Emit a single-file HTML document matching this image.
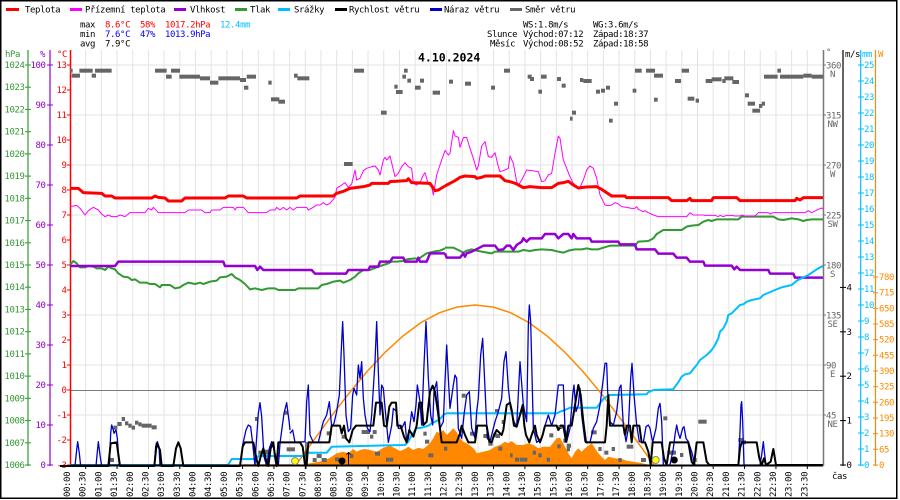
<!DOCTYPE html>
<html><head><meta charset="utf-8"><style>
html,body{margin:0;padding:0;background:#fff;}
svg{display:block;}
text{font-family:"DejaVu Sans Mono","Liberation Mono",monospace;font-size:9px;letter-spacing:-0.4px;}
polyline{fill:none;vector-effect:non-scaling-stroke;stroke-linejoin:round;}
</style></head><body>
<svg width="900" height="500" xmlns="http://www.w3.org/2000/svg">
<rect x="0" y="0" width="900" height="500" fill="#fff"/>
<rect x="0.75" y="0.75" width="896" height="497.5" fill="none" stroke="#000" stroke-width="1.5"/>

<!-- grid -->
<g stroke="#e3e3e3" stroke-width="1">
<line x1="85.69" y1="50" x2="85.69" y2="465"/><line x1="101.38" y1="50" x2="101.38" y2="465"/><line x1="117.06" y1="50" x2="117.06" y2="465"/><line x1="132.75" y1="50" x2="132.75" y2="465"/><line x1="148.44" y1="50" x2="148.44" y2="465"/><line x1="164.13" y1="50" x2="164.13" y2="465"/><line x1="179.81" y1="50" x2="179.81" y2="465"/><line x1="195.5" y1="50" x2="195.5" y2="465"/><line x1="211.19" y1="50" x2="211.19" y2="465"/><line x1="226.88" y1="50" x2="226.88" y2="465"/><line x1="242.56" y1="50" x2="242.56" y2="465"/><line x1="258.25" y1="50" x2="258.25" y2="465"/><line x1="273.94" y1="50" x2="273.94" y2="465"/><line x1="289.63" y1="50" x2="289.63" y2="465"/><line x1="305.31" y1="50" x2="305.31" y2="465"/><line x1="321" y1="50" x2="321" y2="465"/><line x1="336.69" y1="50" x2="336.69" y2="465"/><line x1="352.38" y1="50" x2="352.38" y2="465"/><line x1="368.06" y1="50" x2="368.06" y2="465"/><line x1="383.75" y1="50" x2="383.75" y2="465"/><line x1="399.44" y1="50" x2="399.44" y2="465"/><line x1="415.13" y1="50" x2="415.13" y2="465"/><line x1="430.81" y1="50" x2="430.81" y2="465"/><line x1="446.5" y1="50" x2="446.5" y2="465"/><line x1="462.19" y1="50" x2="462.19" y2="465"/><line x1="477.88" y1="50" x2="477.88" y2="465"/><line x1="493.56" y1="50" x2="493.56" y2="465"/><line x1="509.25" y1="50" x2="509.25" y2="465"/><line x1="524.94" y1="50" x2="524.94" y2="465"/><line x1="540.63" y1="50" x2="540.63" y2="465"/><line x1="556.31" y1="50" x2="556.31" y2="465"/><line x1="572" y1="50" x2="572" y2="465"/><line x1="587.69" y1="50" x2="587.69" y2="465"/><line x1="603.38" y1="50" x2="603.38" y2="465"/><line x1="619.06" y1="50" x2="619.06" y2="465"/><line x1="634.75" y1="50" x2="634.75" y2="465"/><line x1="650.44" y1="50" x2="650.44" y2="465"/><line x1="666.13" y1="50" x2="666.13" y2="465"/><line x1="681.81" y1="50" x2="681.81" y2="465"/><line x1="697.5" y1="50" x2="697.5" y2="465"/><line x1="713.19" y1="50" x2="713.19" y2="465"/><line x1="728.88" y1="50" x2="728.88" y2="465"/><line x1="744.56" y1="50" x2="744.56" y2="465"/><line x1="760.25" y1="50" x2="760.25" y2="465"/><line x1="775.94" y1="50" x2="775.94" y2="465"/><line x1="791.63" y1="50" x2="791.63" y2="465"/><line x1="807.31" y1="50" x2="807.31" y2="465"/>
<line x1="70" y1="65" x2="823" y2="65"/><line x1="70" y1="115" x2="823" y2="115"/><line x1="70" y1="165" x2="823" y2="165"/><line x1="70" y1="215" x2="823" y2="215"/><line x1="70" y1="265" x2="823" y2="265"/><line x1="70" y1="315" x2="823" y2="315"/><line x1="70" y1="365" x2="823" y2="365"/><line x1="70" y1="415" x2="823" y2="415"/>
</g>
<line x1="70" y1="390.5" x2="823" y2="390.5" stroke="#7a7a7a" stroke-width="1"/>

<!-- legend -->
<g stroke-width="3">
<line x1="6" y1="9.5" x2="19" y2="9.5" stroke="#ff0000"/>
<line x1="70" y1="9.5" x2="82" y2="9.5" stroke="#ff00ff"/>
<line x1="174" y1="9.5" x2="186" y2="9.5" stroke="#9400d3"/>
<line x1="235" y1="9.5" x2="247" y2="9.5" stroke="#339933"/>
<line x1="278" y1="9.5" x2="290" y2="9.5" stroke="#00bfff"/>
<line x1="335" y1="9.5" x2="347" y2="9.5" stroke="#000"/>
<line x1="430" y1="9.5" x2="442" y2="9.5" stroke="#0000cc"/>
<line x1="510" y1="9.5" x2="522" y2="9.5" stroke="#666"/>
</g>
<g fill="#000">
<text x="25" y="12.5">Teplota</text>
<text x="85" y="12.5">Přízemní teplota</text>
<text x="190" y="12.5">Vlhkost</text>
<text x="250" y="12.5">Tlak</text>
<text x="294" y="12.5">Srážky</text>
<text x="349" y="12.5">Rychlost větru</text>
<text x="444" y="12.5">Náraz větru</text>
<text x="525" y="12.5">Směr větru</text>
</g>

<!-- stats -->
<text x="80" y="27.3">max</text>
<text x="105" y="27.3" fill="#ff0000">8.6°C</text>
<text x="140" y="27.3" fill="#ff0000">58%</text>
<text x="165" y="27.3" fill="#ff0000">1017.2hPa</text>
<text x="220" y="27.3" fill="#00bfff">12.4mm</text>
<text x="80" y="37">min</text>
<text x="105" y="37" fill="#0000ff">7.6°C</text>
<text x="140" y="37" fill="#0000ff">47%</text>
<text x="165" y="37" fill="#0000ff">1013.9hPa</text>
<text x="80" y="46.7">avg</text>
<text x="105" y="46.7">7.9°C</text>

<text x="523" y="27.3">WS:1.8m/s</text>
<text x="593" y="27.3">WG:3.6m/s</text>
<text x="487" y="37">Slunce</text>
<text x="523" y="37">Východ:07:12</text>
<text x="593" y="37">Západ:18:37</text>
<text x="490" y="46.7">Měsíc</text>
<text x="523" y="46.7">Východ:08:52</text>
<text x="593" y="46.7">Západ:18:58</text>

<text x="418" y="61.7" style="font-size:11.5px;font-weight:bold;letter-spacing:0">4.10.2024</text>

<!-- axis headers -->
<text x="5" y="57" fill="#339933">hPa</text>
<text x="40" y="57" fill="#9400d3">%</text>
<text x="57" y="57" fill="#ff0000">°C</text>
<text x="826" y="55" fill="#666">°</text>
<text x="845" y="57" fill="#000">m/s</text>
<text x="862" y="57" fill="#00bfff">mm</text>
<text x="878" y="57" fill="#ff8800">W</text>

<!-- left axes -->
<line x1="28" y1="50" x2="28" y2="466" stroke="#339933" stroke-width="1.2"/>
<line x1="50" y1="50" x2="50" y2="466" stroke="#9400d3" stroke-width="1.2"/>
<line x1="70.5" y1="50" x2="70.5" y2="466" stroke="#ff0000" stroke-width="1.5"/>
<g stroke="#339933"><line x1="25" x2="31" y1="65" y2="65"/><line x1="25" x2="31" y1="87.2" y2="87.2"/><line x1="25" x2="31" y1="109.4" y2="109.4"/><line x1="25" x2="31" y1="131.7" y2="131.7"/><line x1="25" x2="31" y1="153.9" y2="153.9"/><line x1="25" x2="31" y1="176.1" y2="176.1"/><line x1="25" x2="31" y1="198.3" y2="198.3"/><line x1="25" x2="31" y1="220.6" y2="220.6"/><line x1="25" x2="31" y1="242.8" y2="242.8"/><line x1="25" x2="31" y1="265" y2="265"/><line x1="25" x2="31" y1="287.2" y2="287.2"/><line x1="25" x2="31" y1="309.4" y2="309.4"/><line x1="25" x2="31" y1="331.7" y2="331.7"/><line x1="25" x2="31" y1="353.9" y2="353.9"/><line x1="25" x2="31" y1="376.1" y2="376.1"/><line x1="25" x2="31" y1="398.3" y2="398.3"/><line x1="25" x2="31" y1="420.6" y2="420.6"/><line x1="25" x2="31" y1="442.8" y2="442.8"/><line x1="25" x2="31" y1="465" y2="465"/></g>
<g fill="#339933" text-anchor="end"><text x="24.5" y="68">1024</text><text x="24.5" y="90.2">1023</text><text x="24.5" y="112.4">1022</text><text x="24.5" y="134.7">1021</text><text x="24.5" y="156.9">1020</text><text x="24.5" y="179.1">1019</text><text x="24.5" y="201.3">1018</text><text x="24.5" y="223.6">1017</text><text x="24.5" y="245.8">1016</text><text x="24.5" y="268">1015</text><text x="24.5" y="290.2">1014</text><text x="24.5" y="312.4">1013</text><text x="24.5" y="334.7">1012</text><text x="24.5" y="356.9">1011</text><text x="24.5" y="379.1">1010</text><text x="24.5" y="401.3">1009</text><text x="24.5" y="423.6">1008</text><text x="24.5" y="445.8">1007</text><text x="24.5" y="468">1006</text></g>
<g stroke="#9400d3"><line x1="47" x2="53" y1="65" y2="65"/><line x1="47" x2="53" y1="105" y2="105"/><line x1="47" x2="53" y1="145" y2="145"/><line x1="47" x2="53" y1="185" y2="185"/><line x1="47" x2="53" y1="225" y2="225"/><line x1="47" x2="53" y1="265" y2="265"/><line x1="47" x2="53" y1="305" y2="305"/><line x1="47" x2="53" y1="345" y2="345"/><line x1="47" x2="53" y1="385" y2="385"/><line x1="47" x2="53" y1="425" y2="425"/><line x1="47" x2="53" y1="465" y2="465"/></g>
<g fill="#9400d3" text-anchor="end"><text x="45.5" y="68">100</text><text x="45.5" y="108">90</text><text x="45.5" y="148">80</text><text x="45.5" y="188">70</text><text x="45.5" y="228">60</text><text x="45.5" y="268">50</text><text x="45.5" y="308">40</text><text x="45.5" y="348">30</text><text x="45.5" y="388">20</text><text x="45.5" y="428">10</text><text x="45.5" y="468">0</text></g>
<g stroke="#ff0000"><line x1="67" x2="71" y1="65" y2="65"/><line x1="67" x2="71" y1="90" y2="90"/><line x1="67" x2="71" y1="115" y2="115"/><line x1="67" x2="71" y1="140" y2="140"/><line x1="67" x2="71" y1="165" y2="165"/><line x1="67" x2="71" y1="190" y2="190"/><line x1="67" x2="71" y1="215" y2="215"/><line x1="67" x2="71" y1="240" y2="240"/><line x1="67" x2="71" y1="265" y2="265"/><line x1="67" x2="71" y1="290" y2="290"/><line x1="67" x2="71" y1="315" y2="315"/><line x1="67" x2="71" y1="340" y2="340"/><line x1="67" x2="71" y1="365" y2="365"/><line x1="67" x2="71" y1="390" y2="390"/><line x1="67" x2="71" y1="415" y2="415"/><line x1="67" x2="71" y1="440" y2="440"/><line x1="67" x2="71" y1="465" y2="465"/></g>
<g fill="#ff0000" text-anchor="end"><text x="66.5" y="68">13</text><text x="66.5" y="93">12</text><text x="66.5" y="118">11</text><text x="66.5" y="143">10</text><text x="66.5" y="168">9</text><text x="66.5" y="193">8</text><text x="66.5" y="218">7</text><text x="66.5" y="243">6</text><text x="66.5" y="268">5</text><text x="66.5" y="293">4</text><text x="66.5" y="318">3</text><text x="66.5" y="343">2</text><text x="66.5" y="368">1</text><text x="66.5" y="393">0</text><text x="66.5" y="418">-1</text><text x="66.5" y="443">-2</text><text x="66.5" y="468">-3</text></g>

<!-- orange measured radiation fill -->
<polygon fill="#ff8800" points="300,465 310,463.3 323.3,461 330,457.7 336.7,453.3 343.3,451.7 348.3,453.3 353.3,449 356.7,451.7 360,450 365,449 370,450 376.7,451.7 383.3,447.7 390,445.7 395,448.3 400,451 405,449 408.3,446.7 413.3,450 418.3,447.7 423.3,449 430,443.3 433.3,438.3 436.7,431.7 440,433.3 443.3,430 446.7,435 450,431.7 453.3,428.3 456.7,432.3 460,438.3 463.3,441.7 466.7,443.3 471.7,446.7 475,450 476.7,453.3 483.3,451.7 490,450 495,446.7 500,445 505,441.7 508.3,443.3 511.7,441 516.7,445 523.3,445 528.3,443.3 533.3,445 538.3,448.3 543.3,446.7 550,446.7 556.7,438.3 560,437.7 565,446.7 568.3,453.3 571.7,458.3 575,451.7 578.3,448.3 581.7,451.7 585,448.3 591.7,443.3 595,448.3 598.3,453.3 601.7,456.7 605,460 608.3,456.7 615,458.3 621.7,459 626.7,460.7 633.3,461.7 640,462.7 646.7,464.3 650,465"/>
<line x1="243" y1="465" x2="300" y2="465" stroke="#ff8800" stroke-width="1.5"/>

<!-- gray direction squares -->
<g fill="#666">
<g transform="translate(70 60) scale(0.333333)">
<rect x="0" y="26" width="8" height="12"/><rect x="5" y="41" width="25" height="12"/><rect x="28" y="26" width="40" height="12"/><rect x="65" y="41" width="13" height="12"/><rect x="75" y="26" width="50" height="12"/><rect x="255" y="26" width="35" height="12"/><rect x="288" y="44" width="17" height="12"/><rect x="303" y="26" width="27" height="12"/><rect x="328" y="44" width="62" height="12"/><rect x="390" y="49" width="30" height="12"/><rect x="420" y="62" width="25" height="12"/><rect x="445" y="49" width="65" height="12"/><rect x="510" y="54" width="18" height="12"/><rect x="522" y="77" width="13" height="12"/><rect x="530" y="44" width="28" height="12"/><rect x="595" y="62" width="10" height="12"/><rect x="603" y="112" width="25" height="12"/><rect x="625" y="119" width="20" height="12"/><rect x="672" y="41" width="11" height="12"/><rect x="682" y="49" width="36" height="12"/><rect x="822" y="306" width="26" height="12"/><rect x="852" y="26" width="30" height="12"/><rect x="933" y="152" width="17" height="12"/><rect x="973" y="74" width="10" height="12"/><rect x="978" y="90" width="20" height="12"/><rect x="997" y="44" width="11" height="12"/><rect x="1002" y="26" width="11" height="12"/><rect x="1012" y="56" width="11" height="12"/><rect x="1035" y="77" width="17" height="12"/><rect x="1050" y="56" width="12" height="12"/><rect x="1088" y="92" width="22" height="12"/>
</g>
<g transform="translate(445 60) scale(0.333333)">
<rect x="12" y="59" width="12" height="12"/><rect x="60" y="65" width="18" height="12"/><rect x="138" y="77" width="12" height="12"/><rect x="177" y="26" width="18" height="12"/><rect x="248" y="44" width="12" height="12"/><rect x="255" y="51" width="12" height="12"/><rect x="288" y="44" width="17" height="12"/><rect x="280" y="89" width="11" height="12"/><rect x="336" y="51" width="12" height="12"/><rect x="350" y="71" width="12" height="12"/><rect x="375" y="170" width="8" height="12"/><rect x="381" y="152" width="12" height="12"/><rect x="405" y="54" width="10" height="12"/><rect x="415" y="57" width="25" height="12"/><rect x="453" y="89" width="12" height="12"/><rect x="468" y="86" width="12" height="12"/><rect x="483" y="77" width="12" height="12"/><rect x="492" y="176" width="11" height="12"/><rect x="507" y="125" width="12" height="12"/><rect x="563" y="86" width="11" height="12"/><rect x="570" y="26" width="20" height="12"/><rect x="603" y="26" width="27" height="12"/><rect x="627" y="41" width="27" height="12"/><rect x="627" y="113" width="11" height="12"/><rect x="690" y="57" width="18" height="12"/><rect x="710" y="26" width="22" height="12"/><rect x="728" y="110" width="20" height="12"/><rect x="752" y="116" width="10" height="12"/><rect x="782" y="57" width="20" height="12"/><rect x="800" y="52" width="30" height="12"/><rect x="832" y="57" width="10" height="12"/><rect x="838" y="49" width="27" height="12"/><rect x="862" y="60" width="20" height="12"/><rect x="900" y="100" width="12" height="12"/><rect x="908" y="125" width="22" height="12"/><rect x="922" y="146" width="23" height="12"/><rect x="942" y="132" width="10" height="12"/><rect x="950" y="125" width="10" height="12"/><rect x="957" y="44" width="41" height="12"/><rect x="997" y="26" width="11" height="12"/><rect x="1005" y="44" width="70" height="12"/><rect x="1075" y="41" width="25" height="12"/><rect x="1100" y="44" width="36" height="12"/>
</g>
<g transform="translate(60 380) scale(0.333333)">
<rect x="150" y="234" width="12" height="12"/><rect x="160" y="137" width="12" height="12"/><rect x="172" y="126" width="13" height="12"/><rect x="185" y="111" width="10" height="12"/><rect x="195" y="124" width="10" height="12"/><rect x="205" y="131" width="10" height="12"/><rect x="215" y="137" width="10" height="12"/><rect x="225" y="122" width="10" height="12"/><rect x="235" y="127" width="10" height="12"/><rect x="245" y="131" width="30" height="12"/><rect x="275" y="136" width="15" height="12"/><rect x="585" y="111" width="10" height="12"/><rect x="595" y="212" width="30" height="12"/><rect x="605" y="209" width="23" height="12"/><rect x="672" y="92" width="13" height="12"/><rect x="680" y="202" width="25" height="12"/><rect x="758" y="234" width="12" height="12"/><rect x="770" y="222" width="15" height="12"/><rect x="785" y="234" width="15" height="12"/><rect x="800" y="154" width="15" height="12"/><rect x="825" y="232" width="13" height="12"/><rect x="845" y="164" width="10" height="12"/><rect x="870" y="222" width="10" height="12"/>
</g>
<g transform="translate(290 295) scale(0.333333)">
<rect x="215" y="405" width="25" height="12"/><rect x="240" y="419" width="10" height="12"/><rect x="248" y="405" width="12" height="12"/><rect x="255" y="470" width="15" height="12"/><rect x="288" y="488" width="10" height="12"/><rect x="298" y="488" width="12" height="12"/><rect x="400" y="410" width="10" height="12"/><rect x="405" y="434" width="13" height="12"/><rect x="415" y="475" width="10" height="12"/><rect x="425" y="475" width="5" height="12"/><rect x="462" y="455" width="10" height="12"/><rect x="515" y="296" width="12" height="12"/><rect x="540" y="410" width="15" height="12"/><rect x="580" y="417" width="12" height="12"/><rect x="595" y="440" width="13" height="12"/><rect x="610" y="415" width="12" height="12"/><rect x="618" y="417" width="12" height="12"/><rect x="625" y="455" width="12" height="12"/><rect x="635" y="375" width="10" height="12"/><rect x="615" y="342" width="10" height="12"/><rect x="660" y="475" width="8" height="12"/><rect x="675" y="488" width="13" height="12"/><rect x="690" y="488" width="10" height="12"/><rect x="700" y="488" width="12" height="12"/><rect x="728" y="467" width="10" height="12"/><rect x="745" y="475" width="10" height="12"/><rect x="770" y="488" width="10" height="12"/><rect x="778" y="415" width="12" height="12"/><rect x="805" y="390" width="10" height="12"/><rect x="802" y="448" width="10" height="12"/><rect x="822" y="431" width="10" height="12"/><rect x="830" y="457" width="10" height="12"/>
</g>
<g transform="translate(560 380) scale(0.333333)">
<rect x="0" y="134" width="8" height="12"/><rect x="10" y="176" width="12" height="12"/><rect x="20" y="191" width="13" height="12"/><rect x="93" y="151" width="17" height="12"/><rect x="115" y="201" width="10" height="12"/><rect x="133" y="212" width="12" height="12"/><rect x="155" y="201" width="10" height="12"/><rect x="175" y="234" width="10" height="12"/><rect x="190" y="149" width="10" height="12"/><rect x="200" y="194" width="20" height="12"/><rect x="243" y="234" width="15" height="12"/><rect x="310" y="109" width="12" height="12"/><rect x="322" y="212" width="23" height="12"/><rect x="335" y="212" width="13" height="12"/><rect x="360" y="219" width="10" height="12"/><rect x="398" y="234" width="12" height="12"/><rect x="415" y="119" width="25" height="12"/><rect x="535" y="174" width="13" height="12"/><rect x="545" y="181" width="13" height="12"/>
</g>
</g>

<!-- theoretical solar curve -->
<polyline stroke="#ff8800" stroke-width="1.5" points="296,465 313.9,440 331.8,415.6 349.7,392.4 367.6,370.9 385.5,351.9 403.4,335.6 421.3,322.4 439.2,312.8 457.1,307 475,305 492.9,307 510.8,312.8 528.7,322.4 546.6,335.6 564.5,351.9 582.4,370.9 600.3,392.4 618.2,415.6 636.1,440 654,465"/>

<!-- pressure -->
<g transform="translate(70 60) scale(0.333333)">
<polyline stroke="#339933" stroke-width="2" points="0,615 10,603 20,610 30,622 45,622 55,618 70,620 80,625 95,625 105,630 115,620 125,625 135,628 145,640 160,650 175,652 185,660 195,658 210,668 230,668 240,672 255,672 270,682 275,675 300,675 315,685 330,682 340,675 355,668 375,672 390,668 400,672 420,665 440,662 450,652 470,650 485,642 495,652 510,660 525,672 540,688 555,685 575,690 595,685 615,685 625,690 675,690 685,685 745,685 755,675 770,672 790,665 810,662 820,668 840,660 855,650 865,640 880,630 900,630 920,622 940,615 955,610 965,605 980,605 1000,603 1010,598 1035,595 1045,598 1055,590 1070,580 1090,575 1110,572 1125,565"/>
<polyline stroke="#9400d3" stroke-width="2.5" points="0,618 135,618 145,605 460,605 465,618 555,618 562,630 570,620 580,630 725,630 735,641 828,641 835,630 895,630 900,620 925,620 930,605 960,605 968,593 1000,593 1005,605 1040,605 1045,593 1050,605 1070,605 1080,580 1125,580"/>
<polyline stroke="#ff00ff" stroke-width="1" points="0,440 10,438 20,436 30,445 45,465 55,452 70,442 85,450 95,462 105,470 115,465 125,470 140,470 150,465 160,468 165,470 180,458 225,458 235,445 245,450 250,442 265,458 345,458 355,450 395,450 405,458 420,458 425,450 450,450 460,442 490,442 495,450 500,442 520,442 535,458 590,458 600,450 615,450 620,442 630,450 640,442 650,450 660,442 670,450 680,442 710,442 715,450 730,442 740,435 750,435 760,428 770,435 780,430 795,412 800,385 815,375 825,368 835,382 845,372 855,330 860,360 870,355 880,332 890,325 905,320 915,318 925,330 930,345 940,300 945,292 950,300 960,288 975,350 985,340 995,320 1005,308 1015,320 1025,325 1030,370 1040,375 1050,368 1060,345 1065,338 1075,372 1085,380 1090,405 1100,345 1115,300 1125,272"/>
<polyline stroke="#ff0000" stroke-width="3" points="0,385 25,385 40,398 95,400 105,408 125,408 135,414 245,414 255,408 265,412 285,414 295,423 335,423 345,414 465,414 475,408 520,408 530,414 680,414 690,408 790,408 800,400 820,394 840,385 880,380 900,375 905,370 955,370 960,365 1010,362 1015,356 1025,368 1080,370 1095,392 1105,390 1125,378"/>
</g>
<g transform="translate(445 60) scale(0.333333)">
<polyline stroke="#339933" stroke-width="2" points="0,563 25,563 40,570 55,578 65,572 80,568 95,572 110,575 140,580 150,575 220,575 235,570 255,573 270,570 290,568 320,570 340,575 355,578 370,572 390,568 410,568 425,565 440,568 460,568 475,563 495,557 570,557 580,545 610,543 625,535 635,522 655,510 710,510 725,500 740,497 760,495 775,485 790,480 800,483 815,478 880,478 890,470 985,470 1000,478 1015,480 1040,475 1060,478 1075,483 1085,480 1100,478 1136,478"/>
<polyline stroke="#9400d3" stroke-width="2.5" points="0,580 5,593 45,593 55,580 60,590 65,580 80,575 100,565 115,557 150,557 160,570 175,568 185,557 195,557 205,570 215,555 230,545 235,535 245,545 255,535 290,535 300,522 330,522 340,535 355,522 370,522 380,535 385,522 395,535 435,535 440,545 520,545 525,553 570,553 575,568 630,568 640,581 685,581 695,593 725,593 735,605 775,605 780,617 860,617 868,628 875,620 885,630 970,630 975,641 1045,641 1050,653 1136,653"/>
<polyline stroke="#ff00ff" stroke-width="1" points="0,270 10,285 15,280 25,212 30,228 40,232 45,262 55,233 65,232 75,265 85,295 95,330 100,318 110,258 120,245 130,290 140,292 150,278 160,320 165,335 180,330 190,325 195,288 205,310 215,365 220,375 230,360 240,340 245,330 260,332 280,335 290,365 300,362 310,345 320,340 330,280 340,228 345,235 355,300 365,325 375,350 385,370 395,380 405,382 415,360 425,330 435,318 445,325 455,355 460,380 465,405 475,425 480,435 490,437 500,435 510,428 520,432 530,440 545,442 560,445 570,445 575,440 580,448 595,455 600,452 610,458 625,465 640,470 725,470 735,458 745,465 775,465 780,466 810,466 820,470 825,466 835,470 845,466 860,466 870,468 885,468 890,465 900,468 930,468 940,458 970,458 975,462 985,458 1080,458 1090,452 1100,458 1120,448 1130,444 1136,448"/>
<polyline stroke="#ff0000" stroke-width="3" points="0,378 15,370 30,362 45,352 60,348 90,350 95,355 110,352 120,348 165,348 180,362 195,365 205,368 215,372 235,383 255,380 290,383 320,383 340,370 355,368 370,364 385,375 400,384 425,381 455,380 470,388 500,408 540,408 545,413 670,413 680,422 725,422 735,415 740,422 800,422 805,413 875,413 885,422 1050,422 1055,415 1065,420 1075,413 1136,413"/>
</g>

<!-- rain -->
<polyline stroke="#00bfff" stroke-width="2" points="70,465 228,465 231.7,459 256.7,459 258.3,456 305,456 306.7,452.7 326.7,452.7 331.7,446.7 405,445 408.3,441.7 411.7,435 414,431.7 416,428.3 421.7,427.7 428.3,425.7 431.7,423.3 436.7,421 440,419 444,414.3 446.7,413.3 556.7,413.3 560,411.7 565,410 570,407.7 596.7,407.7 600,403.3 603.3,399 606.7,396.7 610,395 646.7,394.3 648.3,392.3 653.3,390 673.3,389.3 675,386.7 678.3,382.3 681.7,376.7 685,374.3 690,373.3 693.3,369 696.7,365 700,360 706.7,355 711.7,350 715,345 718.3,338.3 720,331.7 723.3,328.3 726.7,321.7 728.3,315 731.7,313.3 736.7,308.3 740,305 743.3,304.3 746.7,301.7 751.7,300 760,298.3 763.3,295 775,290 781.7,287.3 791.7,285 796.7,280.7 808.3,275 818.3,268.3 823,266"/>

<!-- gusts (blue) -->
<g transform="translate(60 380) scale(0.333333)">
<polyline stroke="#0000cc" stroke-width="1.3" points="0,258 45,258 50,210 53,185 58,220 62,258 108,258 112,215 115,185 120,225 125,258 148,258 152,160 155,135 160,150 162,160 168,150 172,175 178,258 283,258 287,200 292,185 297,200 300,258 540,258 548,195 558,150 565,135 572,140 578,190 585,258 588,200 595,100 600,68 605,110 612,230 620,258 628,205 635,185 645,220 655,258 660,190 672,100 680,68 688,130 690,150"/>
<polyline stroke="#000" stroke-width="2" points="0,258 145,258 152,190 170,187 180,258 283,258 290,190 300,210 305,258 340,258 348,205 355,187 362,205 370,258 540,258 548,200 555,187 580,187 590,240 595,258 602,230 610,205 618,240 625,258 632,205 640,187 645,230 650,258 655,187 690,187"/>
</g>
<g transform="translate(290 295) scale(0.333333)">
<polyline stroke="#0000cc" stroke-width="1.3" points="0,415 8,405 15,442 45,440 50,320 55,270 60,420 70,442 85,442 95,400 100,380 110,360 118,320 125,395 132,385 140,350 148,300 155,140 158,80 162,180 168,360 175,410 182,400 188,300 192,280 200,300 205,210 210,250 215,200 220,310 225,360 232,400 240,410 245,360 255,200 260,80 265,230 270,360 275,270 280,280 288,370 295,442 305,392 310,340 320,350 325,400 335,400 345,380 350,440 355,430 365,350 372,380 378,330 382,270 390,320 395,390 402,210 408,80 415,250 422,360 428,390 432,290 440,260 450,400 460,380 465,260 470,150 475,250 480,340 490,270 495,240 500,250 505,400 515,430 522,360 530,300 538,290 545,400 555,430 560,350 565,310 572,180 578,130 585,280 592,430 600,440 610,400 615,380 625,350 635,310 642,200 648,170 655,280 662,340 672,380 680,395 690,200 700,330 710,380 715,90 718,30 722,80 730,400 740,442 755,430 765,392 775,360 785,392 795,360 805,270 810,270"/>
<polyline stroke="#000" stroke-width="2" points="0,442 30,442 38,455 45,510 50,510 55,442 118,442 125,392 150,392 155,415 162,392 168,430 178,442 188,405 198,392 250,392 258,323 275,323 282,392 290,395 298,335 305,323 318,323 322,392 332,392 342,425 350,442 358,405 370,425 380,392 388,323 395,323 400,390 410,380 420,290 428,272 435,290 445,360 455,442 500,442 510,415 515,392 525,420 535,442 555,442 562,392 590,392 598,440 605,442 612,420 620,405 635,420 640,405 650,330 660,323 665,345 672,392 680,395 690,360 698,330 703,392 708,420 718,442 725,420 735,392 740,420 750,442 758,420 765,392 800,392 805,405 810,398"/>
</g>
<g transform="translate(560 295) scale(0.333333)">
<polyline stroke="#0000cc" stroke-width="1.3" points="0,270 10,270 15,400 20,440 30,400 38,300 42,270 48,350 55,330 60,280 65,360 75,440 90,442 100,400 110,380 120,330 130,250 135,205 140,205 143,290 150,380 160,390 170,350 178,280 183,270 190,390 198,440 205,400 212,250 216,205 222,300 230,390 238,440 250,442 258,395 265,390 270,400 278,442 288,400 295,340 300,325 305,380 310,510 330,510 340,460 345,420 350,390 355,415 360,430 368,400 372,395 378,430 385,440 395,470 405,510 535,510 540,410 543,330 545,320 548,380 552,510 600,510 605,480 610,440 613,470 618,510 790,510"/>
<polyline stroke="#000" stroke-width="2" points="0,392 10,392 18,440 25,392 35,392 45,330 55,270 62,300 70,380 78,442 135,442 140,392 145,300 150,392 160,392 190,392 195,420 200,392 210,392 215,442 220,392 238,392 245,442 255,442 265,470 272,510 278,442 305,442 312,490 320,510 330,442 385,442 395,500 402,510 410,442 430,442 440,500 448,510 535,510 540,460 545,442 590,442 598,490 605,510 612,490 618,510 632,500 640,462 648,510 790,510"/>
</g>
<line x1="70" y1="465.5" x2="823" y2="465.5" stroke="#000" stroke-width="2"/>

<!-- sun / moon markers -->
<circle cx="295" cy="461" r="3.5" fill="#ffff00" stroke="#888" stroke-width="1"/>
<circle cx="655.7" cy="460" r="3.5" fill="#ffff00" stroke="#888" stroke-width="1"/>
<circle cx="342" cy="461" r="3.5" fill="#000"/>
<circle cx="674.3" cy="460" r="3.5" fill="#000"/>
<path d="M348.5 465 V452.5 M346.5 454.5 L348.5 452.5 L350.5 454.5" stroke="#000" stroke-width="1" fill="none"/>
<line x1="306" y1="442" x2="306" y2="469" stroke="#000" stroke-width="1"/>

<!-- right axes -->
<line x1="823.5" y1="50" x2="823.5" y2="466" stroke="#777" stroke-width="1.5"/>
<line x1="843" y1="50" x2="843" y2="466" stroke="#000" stroke-width="1.2"/>
<line x1="860.7" y1="50" x2="860.7" y2="466" stroke="#00bfff" stroke-width="1.2"/>
<line x1="875.5" y1="50" x2="875.5" y2="466" stroke="#ff8800" stroke-width="1.2"/>
<g stroke="#777"><line x1="823" x2="826" y1="65" y2="65"/><line x1="823" x2="826" y1="115" y2="115"/><line x1="823" x2="826" y1="165" y2="165"/><line x1="823" x2="826" y1="215" y2="215"/><line x1="823" x2="826" y1="265" y2="265"/><line x1="823" x2="826" y1="315" y2="315"/><line x1="823" x2="826" y1="365" y2="365"/><line x1="823" x2="826" y1="415" y2="415"/></g>
<g fill="#666"><text x="826" y="68.5">360</text><text x="826" y="118.5">315</text><text x="826" y="168.5">270</text><text x="826" y="218.5">225</text><text x="826" y="268.5">180</text><text x="826" y="318.5">135</text><text x="826" y="368.5">90</text><text x="826" y="418.5">45</text></g>
<g fill="#666" text-anchor="middle"><text x="832.5" y="77">N</text><text x="832.5" y="127">NW</text><text x="832.5" y="177">W</text><text x="832.5" y="227">SW</text><text x="832.5" y="277">S</text><text x="832.5" y="327">SE</text><text x="832.5" y="377">E</text><text x="832.5" y="427">NE</text></g>
<g stroke="#000"><line x1="840" x2="846" y1="465" y2="465"/><line x1="840" x2="846" y1="420.6" y2="420.6"/><line x1="840" x2="846" y1="376.2" y2="376.2"/><line x1="840" x2="846" y1="331.8" y2="331.8"/><line x1="840" x2="846" y1="287.4" y2="287.4"/></g>
<g fill="#000"><text x="846.5" y="468">0</text><text x="846.5" y="423.6">1</text><text x="846.5" y="379.2">2</text><text x="846.5" y="334.8">3</text><text x="846.5" y="290.4">4</text></g>
<g stroke="#00bfff"><line x1="858" x2="864" y1="465" y2="465"/><line x1="858" x2="864" y1="449" y2="449"/><line x1="858" x2="864" y1="433" y2="433"/><line x1="858" x2="864" y1="417" y2="417"/><line x1="858" x2="864" y1="401" y2="401"/><line x1="858" x2="864" y1="385" y2="385"/><line x1="858" x2="864" y1="369" y2="369"/><line x1="858" x2="864" y1="353" y2="353"/><line x1="858" x2="864" y1="337" y2="337"/><line x1="858" x2="864" y1="321" y2="321"/><line x1="858" x2="864" y1="305" y2="305"/><line x1="858" x2="864" y1="289" y2="289"/><line x1="858" x2="864" y1="273" y2="273"/><line x1="858" x2="864" y1="257" y2="257"/><line x1="858" x2="864" y1="241" y2="241"/><line x1="858" x2="864" y1="225" y2="225"/><line x1="858" x2="864" y1="209" y2="209"/><line x1="858" x2="864" y1="193" y2="193"/><line x1="858" x2="864" y1="177" y2="177"/><line x1="858" x2="864" y1="161" y2="161"/><line x1="858" x2="864" y1="145" y2="145"/><line x1="858" x2="864" y1="129" y2="129"/><line x1="858" x2="864" y1="113" y2="113"/><line x1="858" x2="864" y1="97" y2="97"/><line x1="858" x2="864" y1="81" y2="81"/><line x1="858" x2="864" y1="65" y2="65"/></g>
<g fill="#00bfff"><text x="864" y="468">0</text><text x="864" y="452">1</text><text x="864" y="436">2</text><text x="864" y="420">3</text><text x="864" y="404">4</text><text x="864" y="388">5</text><text x="864" y="372">6</text><text x="864" y="356">7</text><text x="864" y="340">8</text><text x="864" y="324">9</text><text x="864" y="308">10</text><text x="864" y="292">11</text><text x="864" y="276">12</text><text x="864" y="260">13</text><text x="864" y="244">14</text><text x="864" y="228">15</text><text x="864" y="212">16</text><text x="864" y="196">17</text><text x="864" y="180">18</text><text x="864" y="164">19</text><text x="864" y="148">20</text><text x="864" y="132">21</text><text x="864" y="116">22</text><text x="864" y="100">23</text><text x="864" y="84">24</text><text x="864" y="68">25</text></g>
<g stroke="#ff8800"><line x1="873" x2="878" y1="465" y2="465"/><line x1="873" x2="878" y1="449.3" y2="449.3"/><line x1="873" x2="878" y1="433.7" y2="433.7"/><line x1="873" x2="878" y1="418" y2="418"/><line x1="873" x2="878" y1="402.3" y2="402.3"/><line x1="873" x2="878" y1="386.7" y2="386.7"/><line x1="873" x2="878" y1="371" y2="371"/><line x1="873" x2="878" y1="355.3" y2="355.3"/><line x1="873" x2="878" y1="339.7" y2="339.7"/><line x1="873" x2="878" y1="324" y2="324"/><line x1="873" x2="878" y1="308.3" y2="308.3"/><line x1="873" x2="878" y1="292.7" y2="292.7"/><line x1="873" x2="878" y1="277" y2="277"/></g>
<g fill="#ff8800"><text x="879" y="468">0</text><text x="879" y="452.3">65</text><text x="879" y="436.7">130</text><text x="879" y="421">195</text><text x="879" y="405.3">260</text><text x="879" y="389.7">325</text><text x="879" y="374">390</text><text x="879" y="358.3">455</text><text x="879" y="342.7">520</text><text x="879" y="327">585</text><text x="879" y="311.3">650</text><text x="879" y="295.7">715</text><text x="879" y="280">780</text></g>

<text x="832" y="479">čas</text>

<!-- bottom ticks -->
<g stroke="#000" stroke-width="1">
<line x1="85.69" y1="466" x2="85.69" y2="469"/><line x1="117.06" y1="466" x2="117.06" y2="469"/><line x1="148.44" y1="466" x2="148.44" y2="469"/><line x1="179.81" y1="466" x2="179.81" y2="469"/><line x1="211.19" y1="466" x2="211.19" y2="469"/><line x1="242.56" y1="466" x2="242.56" y2="469"/><line x1="273.94" y1="466" x2="273.94" y2="469"/><line x1="305.31" y1="466" x2="305.31" y2="469"/><line x1="336.69" y1="466" x2="336.69" y2="469"/><line x1="368.06" y1="466" x2="368.06" y2="469"/><line x1="399.44" y1="466" x2="399.44" y2="469"/><line x1="430.81" y1="466" x2="430.81" y2="469"/><line x1="462.19" y1="466" x2="462.19" y2="469"/><line x1="493.56" y1="466" x2="493.56" y2="469"/><line x1="524.94" y1="466" x2="524.94" y2="469"/><line x1="556.31" y1="466" x2="556.31" y2="469"/><line x1="587.69" y1="466" x2="587.69" y2="469"/><line x1="619.06" y1="466" x2="619.06" y2="469"/><line x1="650.44" y1="466" x2="650.44" y2="469"/><line x1="681.81" y1="466" x2="681.81" y2="469"/><line x1="713.19" y1="466" x2="713.19" y2="469"/><line x1="744.56" y1="466" x2="744.56" y2="469"/><line x1="775.94" y1="466" x2="775.94" y2="469"/><line x1="807.31" y1="466" x2="807.31" y2="469"/>
</g>

<!-- time labels -->
<g fill="#000">
<text transform="translate(70,497) rotate(-90)">00:00</text>
<text transform="translate(85.69,497) rotate(-90)">00:30</text>
<text transform="translate(101.38,497) rotate(-90)">01:00</text>
<text transform="translate(117.06,497) rotate(-90)">01:30</text>
<text transform="translate(132.75,497) rotate(-90)">02:00</text>
<text transform="translate(148.44,497) rotate(-90)">02:30</text>
<text transform="translate(164.13,497) rotate(-90)">03:00</text>
<text transform="translate(179.81,497) rotate(-90)">03:30</text>
<text transform="translate(195.5,497) rotate(-90)">04:00</text>
<text transform="translate(211.19,497) rotate(-90)">04:30</text>
<text transform="translate(226.88,497) rotate(-90)">05:00</text>
<text transform="translate(242.56,497) rotate(-90)">05:30</text>
<text transform="translate(258.25,497) rotate(-90)">06:00</text>
<text transform="translate(273.94,497) rotate(-90)">06:30</text>
<text transform="translate(289.63,497) rotate(-90)">07:00</text>
<text transform="translate(305.31,497) rotate(-90)">07:30</text>
<text transform="translate(321,497) rotate(-90)">08:00</text>
<text transform="translate(336.69,497) rotate(-90)">08:30</text>
<text transform="translate(352.38,497) rotate(-90)">09:00</text>
<text transform="translate(368.06,497) rotate(-90)">09:30</text>
<text transform="translate(383.75,497) rotate(-90)">10:00</text>
<text transform="translate(399.44,497) rotate(-90)">10:30</text>
<text transform="translate(415.13,497) rotate(-90)">11:00</text>
<text transform="translate(430.81,497) rotate(-90)">11:30</text>
<text transform="translate(446.5,497) rotate(-90)">12:00</text>
<text transform="translate(462.19,497) rotate(-90)">12:30</text>
<text transform="translate(477.88,497) rotate(-90)">13:00</text>
<text transform="translate(493.56,497) rotate(-90)">13:30</text>
<text transform="translate(509.25,497) rotate(-90)">14:00</text>
<text transform="translate(524.94,497) rotate(-90)">14:30</text>
<text transform="translate(540.63,497) rotate(-90)">15:00</text>
<text transform="translate(556.31,497) rotate(-90)">15:30</text>
<text transform="translate(572,497) rotate(-90)">16:00</text>
<text transform="translate(587.69,497) rotate(-90)">16:30</text>
<text transform="translate(603.38,497) rotate(-90)">17:00</text>
<text transform="translate(619.06,497) rotate(-90)">17:30</text>
<text transform="translate(634.75,497) rotate(-90)">18:00</text>
<text transform="translate(650.44,497) rotate(-90)">18:30</text>
<text transform="translate(666.13,497) rotate(-90)">19:00</text>
<text transform="translate(681.81,497) rotate(-90)">19:30</text>
<text transform="translate(697.5,497) rotate(-90)">20:00</text>
<text transform="translate(713.19,497) rotate(-90)">20:30</text>
<text transform="translate(728.88,497) rotate(-90)">21:00</text>
<text transform="translate(744.56,497) rotate(-90)">21:30</text>
<text transform="translate(760.25,497) rotate(-90)">22:00</text>
<text transform="translate(775.94,497) rotate(-90)">22:30</text>
<text transform="translate(791.63,497) rotate(-90)">23:00</text>
<text transform="translate(807.31,497) rotate(-90)">23:30</text>
</g>
</svg>
</body></html>
